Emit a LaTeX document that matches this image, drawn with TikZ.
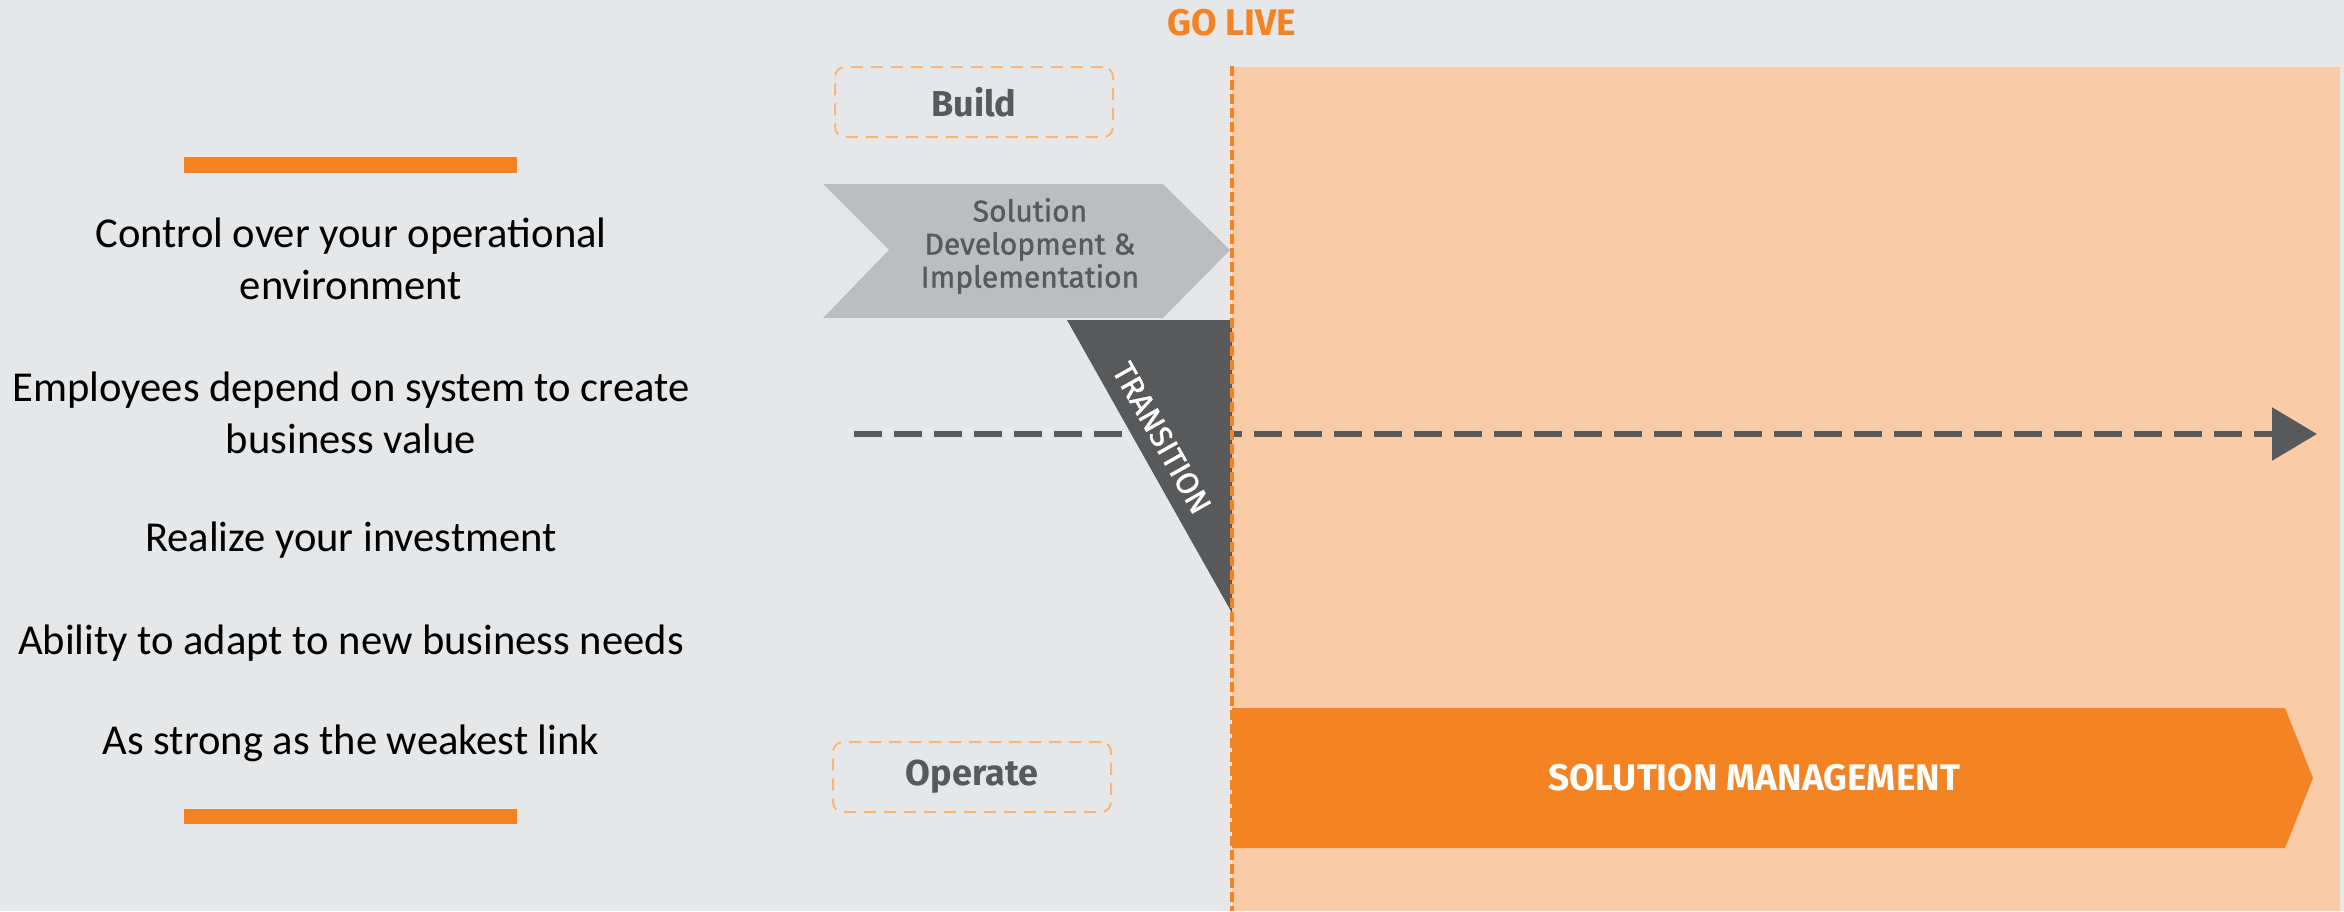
\documentclass[tikz,border=0pt]{standalone}
\usepackage{fontspec}
\setmainfont{Carlito}
\newfontfamily\dinfont{Fira Sans}
\newfontfamily\dinmed{Fira Sans}[FakeBold=1.2]
\usetikzlibrary{arrows.meta}
\definecolor{glBack}{RGB}{230,231,232}
\definecolor{glPeach}{RGB}{249,204,167}
\definecolor{glOrange}{RGB}{244,131,35}
\definecolor{glDark}{RGB}{88,89,91}
\definecolor{glLight}{RGB}{188,189,192}
\definecolor{glDash}{RGB}{249,180,122}
\tikzset{
  phasebox/.style={draw=glDash, line width=1pt, dash pattern=on 6pt off 4pt, rounded corners=5pt,
    minimum width=139pt, minimum height=35pt, text=glDark, font=\dinfont\fontsize{18}{20}\selectfont\bfseries},
  benefit/.style={align=center, text=black, font=\fontsize{21.3}{26}\selectfont},
  stepfont/.style={font=\dinmed\fontsize{15}{16.5}\selectfont\bfseries}
}
\begin{document}
\begin{tikzpicture}[x=0.5pt, y=-0.5pt]
  % canvas
  \fill[glBack] (0,0) rectangle (2344,911);
  \useasboundingbox (0,0) rectangle (2344,911);
  \fill[glPeach] (1232,67) rectangle (2340,911);

  % build chevron
  \fill[glLight] (823,184) -- (1163,184) -- (1230,250) -- (1163,318) -- (823,318) -- (889,250) -- cycle;
  \node[font=\dinmed\fontsize{15}{16.5}\selectfont, text=glDark, align=center] (dev) at (1030,246) {Solution\\Development \&\\Implementation};

  % timeline
  \coordinate (tlStart) at (854,434);
  \coordinate (tlEnd) at (2317,434);
  \draw[glDark, line width=3pt, dash pattern=on 14pt off 6pt, -{Triangle[length=22.5pt,width=26pt]}] (tlStart) -- (tlEnd);

  % transition wedge
  \fill[glDark] (1067,320) -- (1232,320) -- (1232,613) -- cycle;
  \node[font=\dinmed\fontsize{15.5}{16.5}\selectfont, text=white, rotate=-60.6] (trans) at (1162,438) {TRANSITION};

  % operate band
  \fill[glOrange] (1232,708) -- (2285,708) -- (2313,778) -- (2285,848) -- (1232,848) -- cycle;
  \node[text=white, font=\dinfont\fontsize{18.5}{20}\selectfont\bfseries] (mgmt) at (1754,778) {SOLUTION MANAGEMENT};

  % go live marker
  \coordinate (liveTop) at (1232,66);
  \coordinate (liveBot) at (1232,911);
  \draw[glOrange, line width=1.7pt, dash pattern=on 5pt off 2pt] (liveTop) -- (liveBot);
  \node[text=glOrange, font=\dinfont\fontsize{18.5}{20}\selectfont\bfseries] (golive) at (1232,23) {GO LIVE};

  % phases
  \node[phasebox] (build) at (974,102) {Build};
  \node[phasebox] (operate) at (972,777) {Operate};

  % benefits
  \fill[glOrange] (184,157) rectangle (517,173);
  \fill[glOrange] (184,809) rectangle (517,824);
  \foreach \y/\name/\txt in {259/ctrl/{Control over your operational\\environment},
      413/empl/{Employees depend on system to create\\business value},
      540/invest/{Realize your investment},
      643/adapt/{Ability to adapt to new business needs},
      743/link/{As strong as the weakest link}} {
    \node[benefit] (\name) at (351,\y) {\txt};
  }
\end{tikzpicture}
\end{document}
